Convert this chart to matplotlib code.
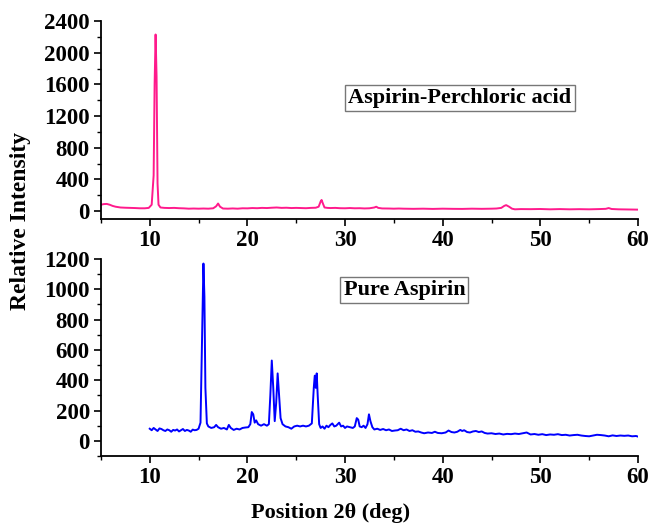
import numpy as np
import matplotlib.pyplot as plt
from matplotlib.ticker import MultipleLocator

plt.rcParams['font.family'] = ['Liberation Serif', 'DejaVu Serif']
plt.rcParams['font.weight'] = 'bold'

# Aspirin-Perchloric acid (pink)
pink_x = [5.0, 5.3, 5.6, 5.9, 6.2, 6.5, 7.0, 7.5, 8.0, 8.5, 9.0, 9.5, 9.9, 10.2, 10.4,
          10.5, 10.6, 10.7, 10.8, 10.9, 11.1, 11.5, 12.0, 12.5, 13.0, 13.5, 14.0, 14.5,
          15.0, 15.5, 16.0, 16.5, 16.8, 17.0, 17.2, 17.5, 18.0, 18.5, 19.0, 19.5, 20.0,
          20.5, 21.0, 21.5, 22.0, 22.5, 23.0, 23.5, 24.0, 24.5, 25.0, 25.5, 26.0, 26.5,
          27.0, 27.3, 27.5, 27.6, 27.75, 27.9, 28.2, 28.5, 29.0, 29.5, 30.0, 30.5, 31.0,
          31.5, 32.0, 32.5, 33.0, 33.2, 33.4, 33.8, 34.5, 35.0, 35.5, 36.0, 37.0, 38.0,
          39.0, 40.0, 41.0, 42.0, 43.0, 44.0, 45.0, 45.5, 46.0, 46.3, 46.5, 46.8, 47.1,
          47.4, 48.0, 49.0, 50.0, 51.0, 52.0, 53.0, 54.0, 55.0, 56.0, 56.7, 57.0, 57.3,
          58.0, 59.0, 60.0]
pink_y = [80, 88, 90, 80, 65, 55, 45, 42, 40, 38, 35, 35, 40, 80, 450,
          1600, 2230, 1700, 350, 80, 45, 40, 38, 40, 36, 34, 30, 32,
          30, 32, 30, 35, 60, 95, 55, 32, 30, 33, 30, 35, 34,
          38, 36, 40, 38, 42, 45, 40, 42, 38, 40, 38, 36, 40,
          42, 55, 120, 140, 90, 45, 40, 38, 40, 36, 35, 38, 35,
          36, 33, 35, 45, 55, 40, 33, 32, 30, 32, 30, 28, 30,
          27, 30, 28, 27, 30, 28, 30, 32, 40, 65, 75, 55, 30,
          22, 25, 24, 26, 22, 25, 22, 24, 22, 25, 28, 38, 26,
          22, 20, 18]

# Pure Aspirin (blue)
blue_x = [10.0, 10.2, 10.4, 10.6, 10.8, 11.0, 11.2, 11.4, 11.6, 11.8, 12.0, 12.2, 12.4,
          12.6, 12.8, 13.0, 13.2, 13.4, 13.6, 13.8, 14.0, 14.2, 14.4, 14.6, 14.8, 15.0,
          15.2, 15.35, 15.5, 15.6, 15.7, 15.85, 16.0, 16.3, 16.6, 16.8, 17.0, 17.3, 17.6,
          17.9, 18.1, 18.3, 18.6, 18.9, 19.2, 19.5, 19.8, 20.1, 20.3, 20.45, 20.6, 20.75,
          20.9, 21.1, 21.4, 21.7, 22.0, 22.2, 22.35, 22.5, 22.65, 22.8, 22.95, 23.1, 23.25,
          23.4, 23.6, 23.9, 24.2, 24.5, 24.8, 25.1, 25.4, 25.7, 26.0, 26.3, 26.6, 26.8,
          26.9, 27.0, 27.1, 27.2, 27.35, 27.5, 27.7, 27.9, 28.1, 28.3, 28.5, 28.7, 28.9,
          29.1, 29.4, 29.6, 29.8, 30.0, 30.2, 30.5, 30.8, 31.0, 31.2, 31.35, 31.5, 31.7,
          31.9, 32.1, 32.3, 32.45, 32.6, 32.8, 33.0, 33.3, 33.6, 33.9, 34.2, 34.5, 34.8,
          35.1, 35.4, 35.7, 36.0, 36.3, 36.6, 36.9, 37.2, 37.5, 37.8, 38.1, 38.5, 38.9,
          39.2, 39.5, 39.9, 40.3, 40.6, 40.9, 41.2, 41.5, 41.8, 42.0, 42.2, 42.5, 42.8,
          43.1, 43.4, 43.7, 44.0, 44.3, 44.6, 45.0, 45.4, 45.8, 46.2, 46.6, 47.0, 47.4,
          47.8, 48.2, 48.6, 49.0, 49.4, 49.8, 50.2, 50.6, 51.0, 51.4, 51.8, 52.2, 52.6,
          53.0, 53.4, 53.8, 54.2, 54.6, 55.0, 55.4, 55.8, 56.2, 56.6, 57.0, 57.4, 57.8,
          58.2, 58.6, 59.0, 59.4, 59.8, 60.0]
blue_y = [80, 70, 85, 75, 65, 82, 78, 70, 65, 75, 70, 60, 72,
          68, 75, 62, 70, 78, 65, 72, 68, 60, 74, 70, 72, 80,
          120, 650, 1170, 950, 350, 115, 95, 85, 90, 105, 90, 80, 85,
          75, 105, 85, 72, 80, 75, 85, 88, 90, 110, 190, 175, 120,
          135, 110, 100, 110, 100, 110, 300, 530, 350, 130, 250, 445, 300,
          150, 110, 95, 90, 80, 95, 100, 95, 100, 95, 100, 115, 350,
          430, 350, 445, 300, 110, 85, 95, 80, 100, 90, 105, 115, 95,
          100, 120, 95, 100, 85, 95, 90, 85, 95, 150, 140, 95, 90,
          100, 85, 110, 175, 130, 90, 75, 80, 72, 78, 70, 75, 65,
          68, 70, 80, 70, 75, 65, 70, 60, 62, 55, 50, 55, 52,
          60, 52, 50, 55, 68, 58, 55, 60, 72, 65, 70, 58, 55,
          62, 65, 58, 62, 52, 48, 50, 45, 48, 42, 46, 44, 48,
          45, 50, 55, 42, 45, 40, 44, 38, 42, 40, 44, 38, 40,
          35, 38, 40, 35, 32, 30, 35, 40, 38, 35, 30, 36, 32,
          35, 33, 35, 30, 32, 28]

x_ticks = [10, 20, 30, 40, 50, 60]
top_yticks = [0, 400, 800, 1200, 1600, 2000, 2400]
bot_yticks = [0, 200, 400, 600, 800, 1000, 1200]

fig = plt.figure(figsize=(6.51, 5.26), dpi=100)
ax1 = fig.add_axes([0.155, 0.5837, 0.825, 0.3763])
ax2 = fig.add_axes([0.155, 0.1331, 0.825, 0.3745])

ax1.plot(pink_x, pink_y, color='#FF1A8C', lw=1.4)
ax2.plot(blue_x, blue_y, color='#0000FF', lw=1.4)

for ax, yt, minor in [(ax1, top_yticks, 200), (ax2, bot_yticks, 100)]:
    ax.set_xlim(5, 60)
    ax.set_ylim(-100, yt[-1])
    ax.set_xticks(x_ticks)
    ax.set_yticks(yt)
    ax.xaxis.set_minor_locator(MultipleLocator(5))
    ax.yaxis.set_minor_locator(MultipleLocator(minor))
    ax.spines['top'].set_visible(False)
    ax.spines['right'].set_visible(False)
    for s in ['left', 'bottom']:
        ax.spines[s].set_linewidth(1.3)
    ax.tick_params(which='major', direction='out', length=5, width=1.2,
                   labelsize=16.5, pad=3)
    ax.tick_params(which='minor', direction='out', length=3, width=1.0)
    for lab in ax.get_xticklabels() + ax.get_yticklabels():
        lab.set_fontweight('bold')

box = dict(boxstyle='square,pad=0.15', facecolor='white', edgecolor='#777777', lw=1.0)
ax1.text(0.668, 0.611, 'Aspirin-Perchloric acid', transform=ax1.transAxes,
         ha='center', va='center', fontsize=16, fontweight='bold', bbox=box)
ax2.text(0.565, 0.843, 'Pure Aspirin', transform=ax2.transAxes,
         ha='center', va='center', fontsize=16, fontweight='bold', bbox=box)

fig.text(0.031, 0.58, 'Relative Intensity', rotation=90, ha='center', va='center',
         fontsize=17, fontweight='bold')
fig.text(0.508, 0.025, 'Position 2\u03b8 (deg)', ha='center', va='center',
         fontsize=16, fontweight='bold')

fig.savefig('out.png', dpi=100)
